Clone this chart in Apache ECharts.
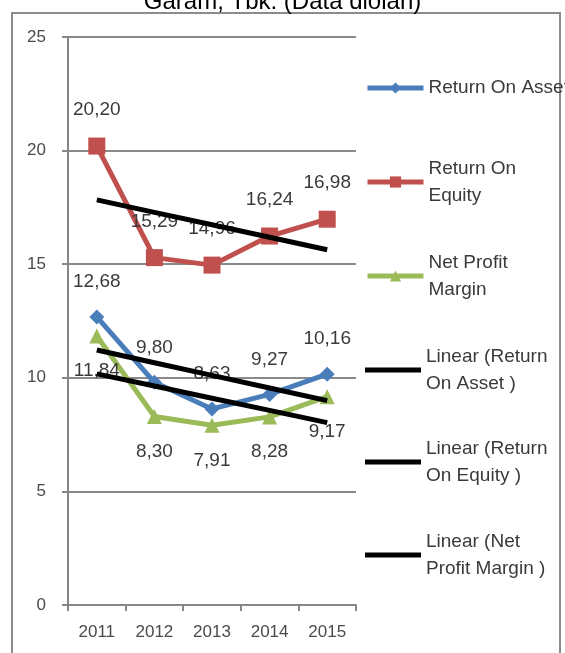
<!DOCTYPE html>
<html>
<head>
<meta charset="utf-8">
<script src="https://cdn.jsdelivr.net/npm/echarts@6/dist/echarts.min.js"></script>
<style>
  html, body { margin: 0; padding: 0; background: #fff; }
  #chart { width: 565px; height: 653px; }
</style>
</head>
<body>
<div id="chart"></div>
<script>
// Rasio profitabilitas 2011-2015
const years = ['2011', '2012', '2013', '2014', '2015'];
const roa = [12.68, 9.80, 8.63, 9.27, 10.16];
const roe = [20.20, 15.29, 14.96, 16.24, 16.98];
const npm = [11.84, 8.30, 7.91, 8.28, 9.17];
const yTicks = [0, 5, 10, 15, 20, 25];

const seriesNames = ['Return On Asset', 'Return On Equity', 'Net Profit Margin'];
const trendNames = ['Linear (Return On Asset )', 'Linear (Return On Equity )', 'Linear (Net Profit Margin )'];
const legendText = {
  'Return On Asset': 'Return On Asset',
  'Return On Equity': 'Return On\nEquity',
  'Net Profit Margin': 'Net Profit\nMargin',
  'Linear (Return On Asset )': 'Linear (Return\nOn Asset )',
  'Linear (Return On Equity )': 'Linear (Return\nOn Equity )',
  'Linear (Net Profit Margin )': 'Linear (Net\nProfit Margin )'
};

// least-squares trend over the category index
function linearTrend(vals) {
  const n = vals.length;
  let sx = 0, sy = 0, sxy = 0, sxx = 0;
  vals.forEach((v, i) => { sx += i; sy += v; sxy += i * v; sxx += i * i; });
  const b = (n * sxy - sx * sy) / (n * sxx - sx * sx);
  const a = (sy - b * sx) / n;
  return vals.map((_, i) => a + b * i);
}

const fmt = p => p.value.toFixed(2).replace('.', ',');
const labelStyle = { color: '#3a3a3a', fontSize: 19, fontFamily: 'Liberation Sans' };

const chart = echarts.init(document.getElementById('chart'), null, { renderer: 'canvas' });

// one legend block per entry, stacked down the right side
const legendCenters = [88, 182, 276, 370, 462, 555];
const allNames = seriesNames.concat(trendNames);
const LH = 27;
const legends = allNames.map((name, i) => {
  const twoLine = legendText[name].indexOf('\n') >= 0;
  const isTrend = i >= 3;
  const h = isTrend ? 5 : 14;
  const textTop = legendCenters[i] - (twoLine ? LH * 1.5 : LH / 2);
  return {
    data: [isTrend ? { name, icon: 'rect' } : name],
    left: 365,
    top: textTop,
    padding: 0,
    itemWidth: 56,
    itemHeight: h,
    itemGap: 0,
    selectedMode: false,
    lineStyle: { width: 5 },
    itemStyle: isTrend ? { color: '#000' } : {},
    formatter: n => legendText[n],
    textStyle: {
      color: '#3a3a3a',
      fontSize: 19,
      fontFamily: 'Liberation Sans',
      lineHeight: LH,
      padding: twoLine ? [LH, 0, 0, 0] : 0
    }
  };
});

const lineSeries = (name, data, color, symbol, size, pos) => ({
  name, type: 'line', data, z: 2,
  symbol, symbolSize: size,
  lineStyle: { color, width: 5 },
  itemStyle: { color },
  label: { show: true, position: pos, distance: 18, formatter: fmt, ...labelStyle }
});

const trendSeries = (name, data) => ({
  name, type: 'line', data: linearTrend(data), z: 3,
  symbol: 'none', showSymbol: false,
  lineStyle: { color: '#000', width: 5 },
  itemStyle: { color: '#000' }
});

chart.setOption({
  animation: false,
  title: {
    text: 'Garam, Tbk. (Data diolah)',
    left: 'center',
    top: -15,
    textStyle: { color: '#000', fontSize: 24, fontWeight: 'normal', fontFamily: 'Liberation Sans' }
  },
  graphic: [{
    type: 'rect',
    shape: { x: 12, y: 13, width: 548, height: 660 },
    style: { fill: 'none', stroke: '#8c8c8c', lineWidth: 2 },
    silent: true
  }],
  legend: legends,
  grid: { left: 68, right: 209, top: 37, bottom: 48, containLabel: false },
  xAxis: {
    type: 'category',
    data: years,
    boundaryGap: true,
    axisLine: { lineStyle: { color: '#868686', width: 2 } },
    axisTick: { show: true, length: 6, lineStyle: { color: '#868686', width: 2 } },
    axisLabel: { color: '#4a4a4a', fontSize: 17, fontFamily: 'Liberation Sans', margin: 19 }
  },
  yAxis: {
    type: 'value',
    min: yTicks[0],
    max: yTicks[yTicks.length - 1],
    interval: 5,
    axisLine: { show: true, lineStyle: { color: '#868686', width: 2 } },
    axisTick: { show: true, length: 6, lineStyle: { color: '#868686', width: 2 } },
    axisLabel: { color: '#4a4a4a', fontSize: 17, fontFamily: 'Liberation Sans', margin: 22 },
    splitLine: { show: true, lineStyle: { color: '#8a8a8a', width: 2 } }
  },
  series: [
    lineSeries(seriesNames[0], roa, '#4A7EBB', 'diamond', 15, 'top'),
    lineSeries(seriesNames[1], roe, '#C0504D', 'rect', 17, 'top'),
    lineSeries(seriesNames[2], npm, '#9BBB59', 'triangle', 15, 'bottom'),
    trendSeries(trendNames[0], roa),
    trendSeries(trendNames[1], roe),
    trendSeries(trendNames[2], npm)
  ]
});
</script>
</body>
</html>
